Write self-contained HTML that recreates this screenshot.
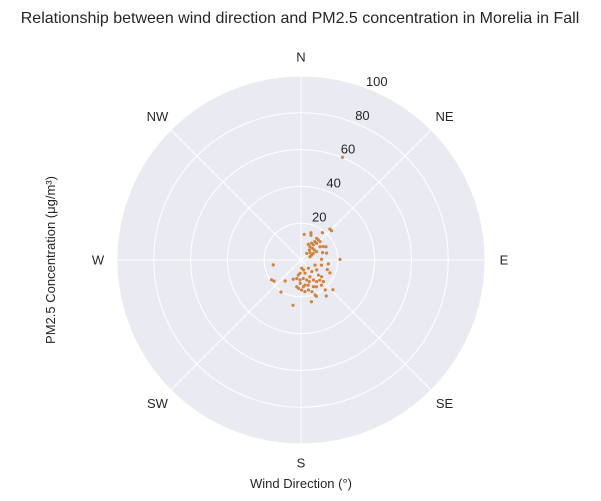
<!DOCTYPE html>
<html><head><meta charset="utf-8"><style>
body{margin:0;background:#fff;}
svg{display:block;font-family:"Liberation Sans","DejaVu Sans",sans-serif;}
</style></head><body>
<svg id="chart" width="601" height="501">
<text x="300" y="23" text-anchor="middle" font-size="16" fill="#262626">Relationship between wind direction and PM2.5 concentration in Morelia in Fall</text>
<text transform="translate(55,260) rotate(-90)" text-anchor="middle" font-size="13" fill="#262626">PM2.5 Concentration (μg/m³)</text>
<text x="301" y="488" text-anchor="middle" font-size="13" fill="#262626">Wind Direction (°)</text>
<g id="plot"></g>
</svg>
<script>
const dirLabels=["N","NE","E","SE","S","SW","W","NW"];
const rTicks=[20,40,60,80,100];
const rMax=100;
const windDir=[7,20,22,38,43,46,36,41,37,32,25,39,43,46,34,45,40,53,62,55,59,62,71,75,41,51,62,65,70,88,89,260,236,232,217,212,190,202,189,182,175,166,163,184,138,137,110,104,98,110,114,122,131,137,144,148,152,164,173,183,185,179,173,166,161,155,150,141,141,145,133,158,157,166,171,164,190,129,134,159,193,175,22];
const pm25=[14.0,15.8,14.5,18.9,23.0,23.0,14.5,14.4,12.5,10.8,9.4,10.6,12.4,14.4,8.7,8.9,7.1,9.0,9.6,12.6,14.1,15.4,12.4,14.4,4.7,6.3,7.6,6.4,5.2,11.2,21.2,15.3,19.3,18.6,14.3,20.5,25.0,11.3,14.7,12.7,4.5,5.6,7.5,7.2,6.0,8.6,8.1,11.5,15.0,15.2,17.2,10.1,12.5,15.0,14.5,12.8,10.3,11.3,10.1,10.9,15.5,16.3,17.3,16.8,18.2,16.0,16.8,17.6,20.9,23.9,23.7,20.5,21.4,23.4,13.8,14.2,8.3,14.4,16.9,12.6,10.3,14.6,60.2];
const cx=301,cy=260,R=184;
const NS="http://www.w3.org/2000/svg";
const g=document.getElementById('plot');
function rad(v){return v/rMax*R;}
function pos(deg,r){const a=deg*Math.PI/180;return [cx+r*Math.sin(a),cy-r*Math.cos(a)];}
function mk(t,attrs){const e=document.createElementNS(NS,t);for(const k in attrs)e.setAttribute(k,attrs[k]);g.appendChild(e);return e;}
let bg=mk('circle',{cx:cx,cy:cy,r:R,fill:'#eaeaf2'});


rTicks.forEach(v=>{
 const c=mk('circle',{cx:cx,cy:cy,r:rad(v),fill:'none',stroke:'#fff','stroke-width':1});
 
 
});
dirLabels.forEach((l,i)=>{
 const p=pos(i*45,R);
 const ln=mk('line',{x1:cx,y1:cy,x2:p[0],y2:p[1],stroke:'#fff','stroke-width':1});
 
 
 const q=pos(i*45,R+19);
 const t=mk('text',{x:q[0],y:q[1]+4.5,'text-anchor':'middle','font-size':13,fill:'#262626'});
 t.textContent=l;
 
 
});
rTicks.forEach(v=>{
 const q=pos(23,rad(v)+10);
 const t=mk('text',{x:q[0],y:q[1]+4.5,'text-anchor':'middle','font-size':13,fill:'#262626'});
 t.textContent=v;
 
 
});
windDir.forEach((d,i)=>{
 const p=pos(d,rad(pm25[i]));
 const c=mk('circle',{cx:p[0],cy:p[1],r:1.6,fill:'#cf8440'});
 
 
});
</script>
</body></html>
